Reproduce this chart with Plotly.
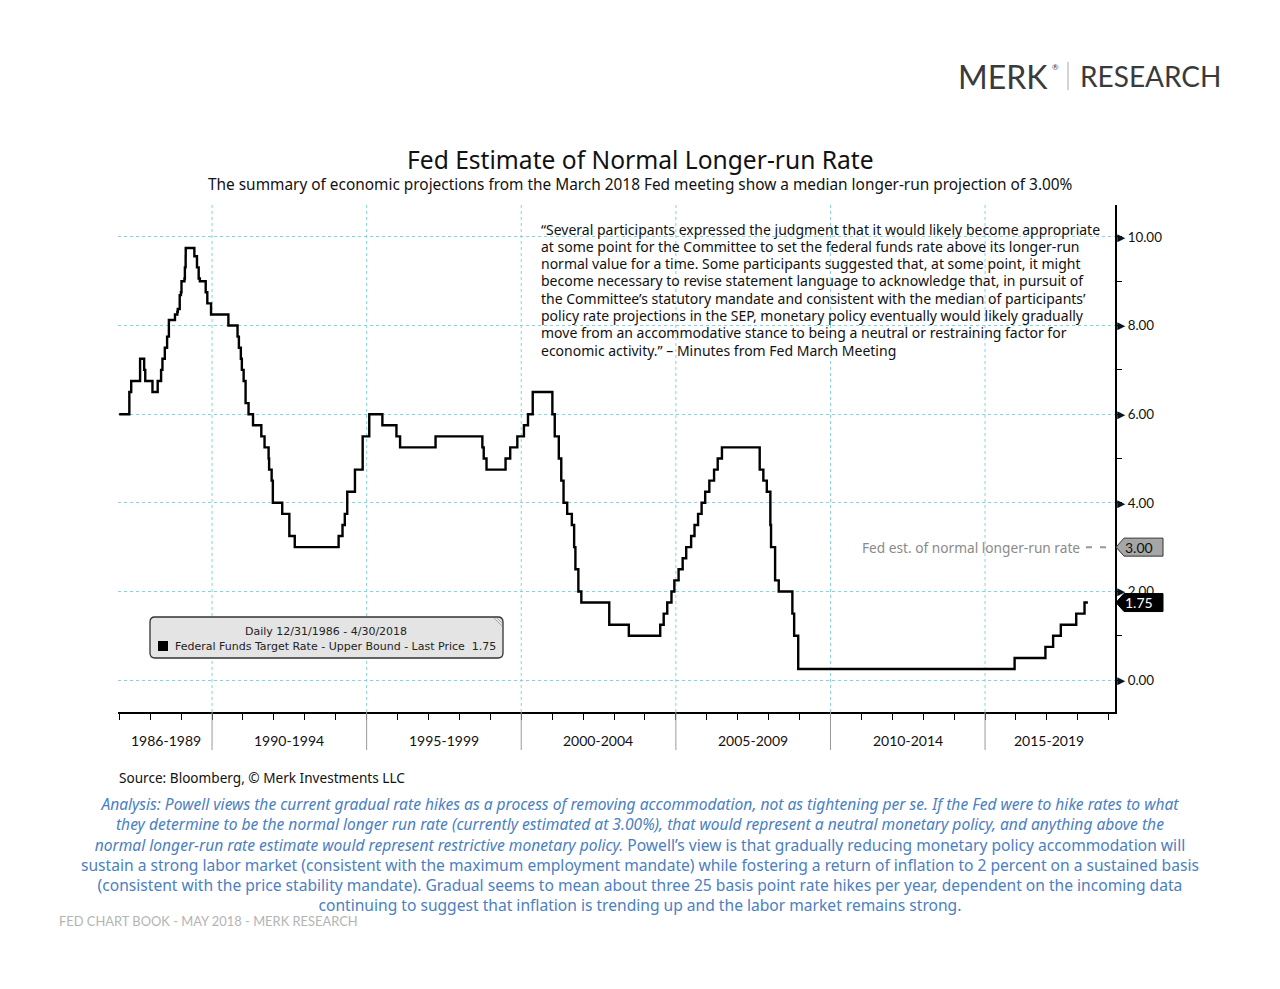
import plotly.graph_objects as go

# ---------------- data ----------------
dates = [
    "1986-12-31", "1987-04-30", "1987-05-22", "1987-09-04", "1987-10-22", "1987-11-04",
    "1988-01-28", "1988-03-30", "1988-05-09", "1988-05-25", "1988-06-22", "1988-07-19",
    "1988-08-09", "1988-10-20", "1988-11-17", "1988-11-22", "1988-12-15", "1988-12-29",
    "1989-01-05", "1989-02-09", "1989-02-14", "1989-02-23", "1989-02-24", "1989-06-06",
    "1989-07-07", "1989-07-27", "1989-08-10", "1989-10-18", "1989-11-06", "1989-12-20",
    "1990-07-13", "1990-10-29", "1990-11-14", "1990-12-07", "1990-12-19", "1991-01-09",
    "1991-02-01", "1991-03-08", "1991-04-30", "1991-08-06", "1991-09-13", "1991-10-31",
    "1991-11-06", "1991-12-06", "1991-12-20", "1992-04-09", "1992-07-02", "1992-09-04",
    "1994-02-04", "1994-03-22", "1994-04-18", "1994-05-17", "1994-08-16", "1994-11-15",
    "1995-02-01", "1995-07-06", "1995-12-19", "1996-01-31", "1997-03-25", "1998-09-29",
    "1998-10-15", "1998-11-17", "1999-06-30", "1999-08-24", "1999-11-16", "2000-02-02",
    "2000-03-21", "2000-05-16", "2001-01-03", "2001-01-31", "2001-03-20", "2001-04-18",
    "2001-05-15", "2001-06-27", "2001-08-21", "2001-09-17", "2001-10-02", "2001-11-06",
    "2001-12-11", "2002-11-06", "2003-06-25", "2004-06-30", "2004-08-10", "2004-09-21",
    "2004-11-10", "2004-12-14", "2005-02-02", "2005-03-22", "2005-05-03", "2005-06-30",
    "2005-08-09", "2005-09-20", "2005-11-01", "2005-12-13", "2006-01-31", "2006-03-28",
    "2006-05-10", "2006-06-29", "2007-09-18", "2007-10-31", "2007-12-11", "2008-01-22",
    "2008-01-30", "2008-03-18", "2008-04-30", "2008-10-08", "2008-10-29", "2008-12-16",
    "2015-12-16", "2016-12-14", "2017-03-15", "2017-06-14", "2017-12-13", "2018-03-21",
    "2018-04-30",
]
rates = [
    6.00, 6.50, 6.75, 7.25, 7.00, 6.75,
    6.50, 6.75, 7.00, 7.25, 7.50, 7.75,
    8.125, 8.25, 8.3125, 8.375, 8.6875, 8.75,
    9.00, 9.0625, 9.3125, 9.5625, 9.75, 9.5625,
    9.3125, 9.0625, 9.00, 8.75, 8.50, 8.25,
    8.00, 7.75, 7.50, 7.25, 7.00, 6.75,
    6.25, 6.00, 5.75, 5.50, 5.25, 5.00,
    4.75, 4.50, 4.00, 3.75, 3.25, 3.00,
    3.25, 3.50, 3.75, 4.25, 4.75, 5.50,
    6.00, 5.75, 5.50, 5.25, 5.50, 5.25,
    5.00, 4.75, 5.00, 5.25, 5.50, 5.75,
    6.00, 6.50, 6.00, 5.50, 5.00, 4.50,
    4.00, 3.75, 3.50, 3.00, 2.50, 2.00,
    1.75, 1.25, 1.00, 1.25, 1.50, 1.75,
    2.00, 2.25, 2.50, 2.75, 3.00, 3.25,
    3.50, 3.75, 4.00, 4.25, 4.50, 4.75,
    5.00, 5.25, 4.75, 4.50, 4.25, 3.50,
    3.00, 2.25, 2.00, 1.50, 1.00, 0.25,
    0.50, 0.75, 1.00, 1.25, 1.50, 1.75,
    1.75,
]
period_labels = ["1986-1989", "1990-1994", "1995-1999", "2000-2004",
                 "2005-2009", "2010-2014", "2015-2019"]
period_label_pos = ["1988-07-01", "1992-07-01", "1997-07-01", "2002-07-01",
                    "2007-07-01", "2012-07-01", "2017-01-25"]
period_bounds = ["1990-01-01", "1995-01-01", "2000-01-01", "2005-01-01",
                 "2010-01-01", "2015-01-01"]
y_tick_vals = [0, 2, 4, 6, 8, 10]
y_tick_text = ["0.00", "2.00", "4.00", "6.00", "8.00", "10.00"]
longer_run_rate = 3.00
last_price = 1.75

quote_lines = [
    "\u201cSeveral participants expressed the judgment that it would likely become appropriate",
    "at some point for the Committee to set the federal funds rate above its longer-run",
    "normal value for a time. Some participants suggested that, at some point, it might",
    "become necessary to revise statement language to acknowledge that, in pursuit of",
    "the Committee\u2019s statutory mandate and consistent with the median of participants\u2019",
    "policy rate projections in the SEP, monetary policy eventually would likely gradually",
    "move from an accommodative stance to being a neutral or restraining factor for",
    "economic activity.\u201d \u2013 Minutes from Fed March Meeting",
]
analysis_lines = [
    "<i>Analysis: Powell views the current gradual rate hikes as a process of removing accommodation, not as tightening per se. If the Fed were to hike rates to what</i>",
    "<i>they determine to be the normal longer run rate (currently estimated at 3.00%), that would represent a neutral monetary policy, and anything above the</i>",
    "<i>normal longer-run rate estimate would represent restrictive monetary policy.</i> Powell\u2019s view is that gradually reducing monetary policy accommodation will",
    "sustain a strong labor market (consistent with the maximum employment mandate) while fostering a return of inflation to 2 percent on a sustained basis",
    "(consistent with the price stability mandate). Gradual seems to mean about three 25 basis point rate hikes per year, dependent on the incoming data",
    "continuing to suggest that inflation is trending up and the labor market remains strong.",
]

# ---------------- geometry helpers (pixel -> paper) ----------------
L, R, T, B = 118, 1115, 205, 712
W, H = 1280, 989


def X(px):
    return (px - L) / (R - L)


def Y(py):
    return (B - py) / (B - T)


FONT = "'Noto Sans', Lato, sans-serif"
LATO = "Lato, 'Noto Sans', sans-serif"
GRID = "#86d3de"

fig = go.Figure()
fig.add_trace(go.Scatter(
    x=dates, y=rates, mode="lines", line=dict(color="black", width=2.4, shape="hv"),
    hoverinfo="x+y", showlegend=False,
))

shapes = []
annotations = []

# vertical dotted gridlines
for d in period_bounds:
    shapes.append(dict(type="line", xref="x", yref="paper", x0=d, x1=d, y0=0, y1=1,
                       line=dict(color=GRID, width=1, dash="dot"), layer="below"))
# separators between period labels
for d in period_bounds:
    shapes.append(dict(type="line", xref="x", yref="paper", x0=d, x1=d, y0=0, y1=Y(750),
                       line=dict(color="#9a9a9a", width=1)))
# period labels
for lab, pos in zip(period_labels, period_label_pos):
    annotations.append(dict(x=pos, y=Y(740), xref="x", yref="paper", text=lab,
                            showarrow=False, font=dict(family=LATO, size=14, color="#111"),
                            xanchor="center", yanchor="middle"))

# longer-run dashed marker
shapes.append(dict(type="line", xref="paper", yref="y", x0=X(1086), x1=X(1114),
                   y0=longer_run_rate, y1=longer_run_rate,
                   line=dict(color="#999999", width=2, dash="6px,8px")))
annotations.append(dict(x=X(1082), y=longer_run_rate, xref="paper", yref="y",
                        text="Fed est. of normal longer-run rate", showarrow=False,
                        font=dict(family=FONT, size=13.7, color="#8a8a8a"),
                        xanchor="right", yanchor="middle"))


def tag(yval, fill, line_col):
    ymin, ymax = -0.72, 10.72
    yc = (yval - ymin) / (ymax - ymin)
    hh = 9 / (B - T)
    x0, xm, x1 = X(1116), X(1124), X(1163)
    path = (f"M {x0} {yc} L {xm} {yc + hh} L {x1} {yc + hh} "
            f"L {x1} {yc - hh} L {xm} {yc - hh} Z")
    return dict(type="path", xref="paper", yref="paper", path=path,
                fillcolor=fill, line=dict(color=line_col, width=1), layer="above")


shapes.append(tag(longer_run_rate, "#a6a6a6", "#333333"))
shapes.append(tag(last_price, "#000000", "#000000"))
annotations.append(dict(x=X(1139), y=longer_run_rate, xref="paper", yref="y",
                        text=f"{longer_run_rate:.2f}", showarrow=False,
                        font=dict(family=LATO, size=14, color="#111"),
                        xanchor="center", yanchor="middle"))
annotations.append(dict(x=X(1139), y=last_price, xref="paper", yref="y",
                        text=f"{last_price:.2f}", showarrow=False,
                        font=dict(family=LATO, size=14, color="white"),
                        xanchor="center", yanchor="middle"))

# legend box (rounded)
bx0, bx1, by0, by1 = X(150), X(503), Y(658), Y(617)
rx, ry = 5 / (R - L), 5 / (B - T)
path = (f"M {bx0 + rx} {by1} L {bx1 - rx} {by1} Q {bx1} {by1} {bx1} {by1 - ry} "
        f"L {bx1} {by0 + ry} Q {bx1} {by0} {bx1 - rx} {by0} "
        f"L {bx0 + rx} {by0} Q {bx0} {by0} {bx0} {by0 + ry} "
        f"L {bx0} {by1 - ry} Q {bx0} {by1} {bx0 + rx} {by1} Z")
shapes.append(dict(type="path", xref="paper", yref="paper", path=path,
                   fillcolor="#e4e4e4", line=dict(color="#333333", width=1.3), layer="above"))
for k in range(3):
    off = 3 * k
    shapes.append(dict(type="line", xref="paper", yref="paper",
                       x0=X(494 + off), y0=Y(618), x1=X(502), y1=Y(626 - off),
                       line=dict(color="#999", width=0.8), layer="above"))
shapes.append(dict(type="rect", xref="paper", yref="paper",
                   x0=X(158), x1=X(168), y0=Y(651), y1=Y(641),
                   fillcolor="black", line=dict(width=0), layer="above"))
annotations.append(dict(x=X(326), y=Y(631), xref="paper", yref="paper",
                        text="Daily 12/31/1986 - 4/30/2018", showarrow=False,
                        font=dict(family="'DejaVu Sans', sans-serif", size=11, color="#222"),
                        xanchor="center", yanchor="middle"))
annotations.append(dict(x=X(173), y=Y(646), xref="paper", yref="paper",
                        text=f"Federal Funds Target Rate - Upper Bound - Last Price  {last_price:.2f}",
                        showarrow=False,
                        font=dict(family="'DejaVu Sans', sans-serif", size=11, color="#222"),
                        xanchor="left", yanchor="middle"))

# quote lines
for i, ln in enumerate(quote_lines):
    annotations.append(dict(x=X(539), y=Y(229 + 17.3 * i), xref="paper", yref="paper",
                            text=ln, showarrow=False,
                            font=dict(family=FONT, size=14.0, color="#111"),
                            xanchor="left", yanchor="middle"))

# title and subtitle
annotations.append(dict(x=X(640), y=Y(159), xref="paper", yref="paper",
                        text="Fed Estimate of Normal Longer-run Rate", showarrow=False,
                        font=dict(family=FONT, size=24.6, color="#111"),
                        xanchor="center", yanchor="middle"))
annotations.append(dict(x=X(640), y=Y(184), xref="paper", yref="paper",
                        text="The summary of economic projections from the March 2018 Fed meeting show a median longer-run projection of 3.00%",
                        showarrow=False, font=dict(family=FONT, size=15.4, color="#111"),
                        xanchor="center", yanchor="middle"))

# logo
annotations.append(dict(x=X(1050), y=Y(76), xref="paper", yref="paper",
                        text="MERK", showarrow=False,
                        font=dict(family=LATO, size=32, color="#3a3a3a"),
                        xanchor="right", yanchor="middle"))
annotations.append(dict(x=X(1050), y=Y(67), xref="paper", yref="paper",
                        text="®", showarrow=False,
                        font=dict(family=LATO, size=8, color="#3a3a3a"),
                        xanchor="left", yanchor="middle"))
shapes.append(dict(type="line", xref="paper", yref="paper", x0=X(1068), x1=X(1068),
                   y0=Y(62), y1=Y(90), line=dict(color="#aaaaaa", width=1)))
annotations.append(dict(x=X(1078), y=Y(76), xref="paper", yref="paper",
                        text="RESEARCH", showarrow=False,
                        font=dict(family=LATO, size=28, color="#3a3a3a"),
                        xanchor="left", yanchor="middle"))

# source
annotations.append(dict(x=X(117), y=Y(777), xref="paper", yref="paper",
                        text="Source: Bloomberg, \u00a9 Merk Investments LLC", showarrow=False,
                        font=dict(family=FONT, size=13.6, color="#111"),
                        xanchor="left", yanchor="middle"))
# analysis (one block, centered)
annotations.append(dict(x=X(640), y=Y(854.5), xref="paper", yref="paper",
                        text="<br>".join(analysis_lines), showarrow=False, align="center",
                        font=dict(family=FONT, size=15.6, color="#4a80c3"),
                        xanchor="center", yanchor="middle"))
# footer
annotations.append(dict(x=X(57), y=Y(921), xref="paper", yref="paper",
                        text="FED CHART BOOK - MAY 2018 - MERK RESEARCH", showarrow=False,
                        font=dict(family=LATO, size=12.9, color="#b4b4b4"),
                        xanchor="left", yanchor="middle"))

fig.update_layout(
    width=W, height=H,
    margin=dict(l=L, r=W - R, t=T, b=H - B, pad=0),
    paper_bgcolor="white", plot_bgcolor="white",
    showlegend=False,
    shapes=shapes, annotations=annotations,
    xaxis=dict(type="date", range=["1986-12-17", "2019-03-16"],
               showgrid=False, zeroline=False,
               showline=True, linecolor="black", linewidth=1.5,
               ticks="outside", ticklen=6, tickcolor="black", tickwidth=1,
               dtick="M12", tick0="1987-01-01", showticklabels=False),
    yaxis=dict(side="right", range=[-0.72, 10.72], zeroline=False,
               showline=True, linecolor="black", linewidth=1.5,
               tickvals=y_tick_vals, ticktext=["\u25ba" + t for t in y_tick_text],
               ticks="", ticklabelstandoff=-5,
               showgrid=True, gridcolor=GRID, griddash="dot", gridwidth=1,
               tickfont=dict(family=LATO, size=13.4, color="#111"),
               minor=dict(dtick=1, tick0=0, ticks="outside", ticklen=5,
                          tickcolor="black", showgrid=False)),
)

fig.write_html("out.html", config={"displayModeBar": False})
with open("out.html", "r", encoding="utf-8") as f:
    html = f.read()
html = html.replace("<head>", "<head><style>html,body{margin:0;padding:0;overflow:hidden;}</style>", 1)
with open("out.html", "w", encoding="utf-8") as f:
    f.write(html)
